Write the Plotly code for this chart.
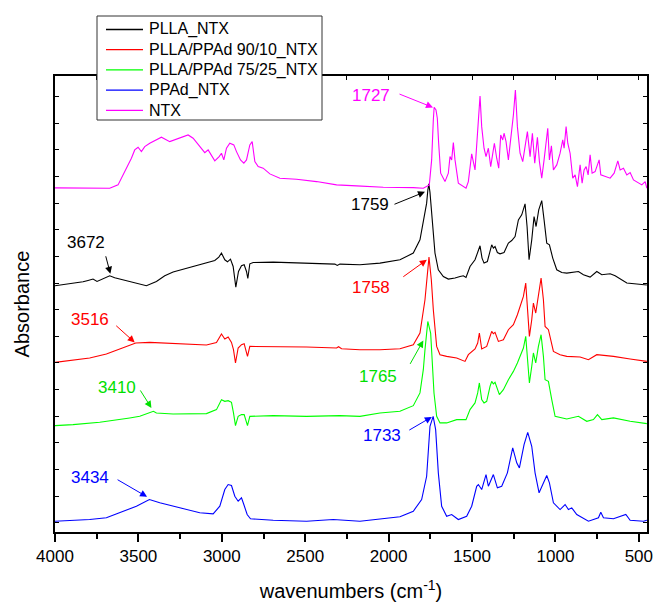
import plotly.graph_objects as go

# FTIR spectra (stacked, absorbance in arbitrary units with vertical offsets)
wn_plla = [4000, 3900, 3832, 3802, 3772, 3748, 3702, 3672, 3642, 3572, 3492, 3452, 3392, 3342, 3292,
           3192, 3092, 3042, 3018, 3002, 2982, 2966, 2948, 2932, 2916, 2900, 2882, 2866, 2852, 2844,
           2832, 2812, 2692, 2492, 2322, 2308, 2292, 2172, 2052, 1932, 1852, 1812, 1788, 1772, 1765,
           1759, 1752, 1742, 1722, 1702, 1672, 1642, 1602, 1572, 1552, 1536, 1512, 1482, 1466, 1452,
           1440, 1428, 1408, 1392, 1382, 1372, 1362, 1348, 1332, 1308, 1282, 1262, 1242, 1222, 1202,
           1182, 1170, 1158, 1142, 1128, 1116, 1100, 1082, 1068, 1052, 1036, 1016, 992, 962, 932,
           862, 832, 792, 752, 722, 672, 642, 572, 492, 452]
ab_plla = [2.465, 2.485, 2.505, 2.518, 2.532, 2.508, 2.542, 2.565, 2.545, 2.515, 2.485, 2.465, 2.508, 2.565, 2.602,
           2.648, 2.692, 2.718, 2.752, 2.792, 2.725, 2.705, 2.732, 2.658, 2.452, 2.608, 2.665, 2.675, 2.608, 2.538,
           2.685, 2.698, 2.702, 2.692, 2.682, 2.668, 2.682, 2.675, 2.692, 2.725, 2.792, 2.925, 3.125, 3.292, 3.420,
           3.485, 3.400, 3.192, 2.792, 2.625, 2.558, 2.532, 2.542, 2.558, 2.565, 2.548, 2.658, 2.725, 2.792, 2.865,
           2.742, 2.692, 2.708, 2.825, 2.875, 2.842, 2.858, 2.798, 2.785, 2.798, 2.892, 2.918, 2.958, 3.125, 3.175,
           3.285, 3.058, 2.725, 2.925, 3.158, 3.058, 3.225, 3.318, 3.125, 2.892, 2.875, 2.742, 2.625, 2.598, 2.592,
           2.608, 2.575, 2.552, 2.608, 2.575, 2.585, 2.565, 2.492, 2.478, 2.472]

wn_blend90 = [4000, 3892, 3792, 3692, 3592, 3516, 3432, 3292, 3092, 3032, 3002, 2982, 2962, 2942, 2930,
              2918, 2902, 2882, 2866, 2854, 2846, 2832, 2692, 2492, 2312, 2300, 2282, 2172, 2052, 1932,
              1852, 1812, 1782, 1768, 1758, 1744, 1732, 1712, 1692, 1652, 1592, 1542, 1522, 1482, 1466,
              1456, 1442, 1412, 1392, 1382, 1372, 1362, 1342, 1312, 1282, 1252, 1228, 1212, 1192, 1178,
              1168, 1156, 1142, 1132, 1118, 1102, 1086, 1072, 1062, 1042, 1012, 972, 932, 852, 802,
              752, 652, 552, 452]
ab_blend90 = [1.698, 1.718, 1.742, 1.782, 1.842, 1.892, 1.898, 1.885, 1.872, 1.898, 1.982, 1.932, 1.952, 1.898, 1.825,
              1.692, 1.842, 1.875, 1.885, 1.808, 1.758, 1.858, 1.858, 1.852, 1.842, 1.855, 1.835, 1.825, 1.825, 1.835,
              1.875, 1.992, 2.325, 2.558, 2.752, 2.525, 2.225, 1.858, 1.775, 1.758, 1.742, 1.708, 1.775, 1.832, 1.892,
              1.992, 1.832, 1.858, 1.975, 2.008, 1.985, 1.998, 1.908, 1.925, 2.025, 2.075, 2.175, 2.258, 2.358, 2.492,
              2.225, 1.958, 2.125, 2.292, 2.192, 2.392, 2.542, 2.325, 2.058, 2.025, 1.808, 1.775, 1.758, 1.752, 1.725,
              1.775, 1.758, 1.732, 1.708]

wn_blend75 = [4000, 3892, 3732, 3672, 3552, 3492, 3452, 3410, 3392, 3292, 3092, 3032, 3002, 2982, 2962,
              2942, 2930, 2918, 2902, 2882, 2866, 2854, 2846, 2832, 2692, 2492, 2292, 2172, 2052, 1932,
              1852, 1812, 1792, 1782, 1772, 1765, 1748, 1738, 1728, 1712, 1692, 1652, 1592, 1536, 1512,
              1482, 1466, 1456, 1442, 1428, 1412, 1392, 1382, 1372, 1362, 1336, 1312, 1282, 1252, 1228,
              1212, 1192, 1178, 1168, 1156, 1142, 1132, 1118, 1102, 1086, 1072, 1062, 1042, 1022, 1002,
              932, 862, 812, 772, 748, 722, 652, 552, 452]
ab_blend75 = [1.065, 1.075, 1.098, 1.115, 1.142, 1.158, 1.185, 1.208, 1.192, 1.182, 1.185, 1.225, 1.325, 1.308, 1.315,
              1.298, 1.192, 1.065, 1.158, 1.175, 1.175, 1.108, 1.065, 1.158, 1.165, 1.158, 1.165, 1.158, 1.192, 1.208,
              1.265, 1.392, 1.625, 1.825, 1.992, 2.108, 1.992, 1.725, 1.392, 1.158, 1.092, 1.092, 1.125, 1.125, 1.225,
              1.292, 1.392, 1.492, 1.325, 1.292, 1.308, 1.458, 1.508, 1.482, 1.498, 1.375, 1.425, 1.525, 1.608, 1.692,
              1.758, 1.842, 1.958, 1.758, 1.492, 1.658, 1.792, 1.692, 1.858, 1.975, 1.758, 1.525, 1.508, 1.325, 1.158,
              1.132, 1.158, 1.108, 1.125, 1.175, 1.125, 1.142, 1.108, 1.085]

wn_ppad = [4000, 3892, 3792, 3692, 3592, 3512, 3434, 3372, 3252, 3132, 3052, 3012, 2982, 2962, 2942,
           2922, 2902, 2882, 2868, 2848, 2828, 2692, 2492, 2332, 2172, 2052, 1932, 1852, 1802, 1772,
           1752, 1733, 1718, 1702, 1682, 1652, 1622, 1582, 1532, 1502, 1472, 1462, 1442, 1416, 1402,
           1372, 1348, 1322, 1288, 1256, 1232, 1216, 1188, 1166, 1142, 1122, 1098, 1076, 1052, 1036,
           1012, 972, 942, 922, 902, 872, 802, 742, 728, 712, 652, 578, 552, 472, 452]
ab_ppad = [0.108, 0.118, 0.125, 0.142, 0.208, 0.258, 0.325, 0.292, 0.242, 0.192, 0.182, 0.258, 0.425, 0.475, 0.465,
           0.358, 0.308, 0.342, 0.275, 0.175, 0.132, 0.118, 0.108, 0.125, 0.108, 0.132, 0.152, 0.208, 0.325, 0.558,
           1.058, 1.158, 1.025, 0.592, 0.258, 0.158, 0.175, 0.125, 0.158, 0.258, 0.458, 0.475, 0.425, 0.575, 0.458,
           0.575, 0.442, 0.458, 0.592, 0.842, 0.692, 0.642, 0.875, 0.998, 0.858, 0.592, 0.392, 0.475, 0.565, 0.492,
           0.292, 0.225, 0.275, 0.225, 0.242, 0.175, 0.108, 0.142, 0.198, 0.142, 0.132, 0.175, 0.118, 0.108, 0.118]

wn_ntx = [4000, 3900, 3792, 3672, 3622, 3592, 3562, 3542, 3522, 3502, 3482, 3462, 3432, 3392, 3362,
          3312, 3272, 3202, 3172, 3132, 3102, 3082, 3062, 3042, 3016, 3002, 2988, 2972, 2952, 2928,
          2912, 2888, 2868, 2852, 2832, 2818, 2802, 2782, 2752, 2712, 2652, 2552, 2432, 2312, 2192,
          2032, 1852, 1792, 1756, 1742, 1732, 1727, 1716, 1708, 1700, 1688, 1662, 1642, 1632, 1622,
          1612, 1602, 1582, 1536, 1522, 1502, 1482, 1466, 1452, 1442, 1428, 1416, 1402, 1388, 1366,
          1352, 1340, 1328, 1316, 1308, 1296, 1282, 1268, 1252, 1240, 1228, 1212, 1196, 1182, 1168,
          1152, 1138, 1124, 1108, 1096, 1082, 1068, 1058, 1046, 1036, 1024, 1012, 992, 972, 956,
          948, 936, 926, 912, 896, 882, 868, 852, 840, 828, 816, 804, 792, 780, 762,
          752, 738, 728, 702, 672, 648, 626, 612, 592, 572, 552, 532, 502, 482, 462, 452]
ab_ntx = [3.445, 3.445, 3.442, 3.442, 3.475, 3.575, 3.675, 3.742, 3.825, 3.852, 3.808, 3.858, 3.892, 3.925, 3.952,
          3.908, 3.932, 3.975, 3.942, 3.858, 3.798, 3.825, 3.765, 3.715, 3.758, 3.792, 3.725, 3.842, 3.892, 3.875,
          3.808, 3.725, 3.692, 3.725, 3.875, 3.908, 3.708, 3.658, 3.642, 3.585, 3.542, 3.532, 3.508, 3.475, 3.465,
          3.452, 3.448, 3.442, 3.475, 3.725, 4.125, 4.252, 4.225, 4.142, 3.892, 3.592, 3.508, 3.592, 3.758, 3.725,
          3.898, 3.725, 3.492, 3.442, 3.508, 3.785, 3.625, 4.058, 4.365, 4.058, 3.842, 3.758, 3.842, 3.658, 3.892,
          3.742, 3.642, 3.975, 3.925, 3.992, 3.908, 3.725, 3.925, 4.175, 4.425, 4.058, 3.792, 3.708, 3.858, 4.008,
          3.758, 3.992, 3.692, 3.952, 3.708, 3.542, 3.725, 3.892, 4.042, 3.725, 3.865, 3.625, 3.675, 3.792, 3.925,
          3.842, 4.058, 3.892, 3.792, 3.542, 3.575, 3.458, 3.675, 3.492, 3.625, 3.658, 3.575, 3.775, 3.592, 3.608,
          3.658, 3.725, 3.575, 3.558, 3.542, 3.592, 3.715, 3.625, 3.642, 3.575, 3.598, 3.525, 3.498, 3.475, 3.508, 3.442]

series_names = ["PLLA_NTX", "PLLA/PPAd 90/10_NTX", "PLLA/PPAd 75/25_NTX", "PPAd_NTX", "NTX"]
series_colors = ["#000000", "#FF0000", "#00FF00", "#0000FF", "#FF00FF"]
series_x = [wn_plla, wn_blend90, wn_blend75, wn_ppad, wn_ntx]
series_y = [ab_plla, ab_blend90, ab_blend75, ab_ppad, ab_ntx]

# Band labels: (text, colour, arrow head wn, head abs, tail dx px, tail dy px, text wn, text abs)
band_labels = [
    ("1727", "#FF00FF", 1734, 4.25, -35, -14, 2106, 4.365),
    ("1759", "#000000", 1782, 3.405, -32, 13, 2112, 3.275),
    ("3672", "#000000", 3668, 2.585, -5, -19, 3816, 2.895),
    ("1758", "#FF0000", 1771, 2.725, -25, 18, 2106, 2.445),
    ("3516", "#FF0000", 3522, 1.898, -20, -18, 3792, 2.125),
    ("1765", "#00E000", 1792, 1.918, -14, 25, 2064, 1.555),
    ("3410", "#00E000", 3422, 1.242, -12, -19, 3630, 1.445),
    ("1733", "#0000FF", 1741, 1.152, -24, 14, 2040, 0.965),
    ("3434", "#0000FF", 3448, 0.352, -31, -18, 3792, 0.545),
]

FONT = "Arial, Liberation Sans, sans-serif"
W, H = 655, 603
M_L, M_R, M_T, M_B = 55, 8, 76, 71
PLOT_W, PLOT_H = W - M_L - M_R, H - M_T - M_B


def px_to_paper(px, py):
    """Convert a page pixel position to paper coordinates."""
    return (px - M_L) / PLOT_W, (H - M_B - py) / PLOT_H


fig = go.Figure()
for name, color, xs, ys in zip(series_names, series_colors, series_x, series_y):
    fig.add_trace(go.Scatter(x=xs, y=ys, mode="lines", name=name, showlegend=False,
                             line=dict(color=color, width=1.1)))

# placeholder trace so the top frame axis is drawn
fig.add_trace(go.Scatter(x=[None], y=[None], xaxis="x2", showlegend=False, hoverinfo="skip"))

annotations = []
for text, color, hx, hy, dx, dy, tx, ty in band_labels:
    annotations.append(dict(x=hx, y=hy, xref="x", yref="y", text="", showarrow=True,
                            ax=dx, ay=dy, arrowhead=2, arrowsize=1.4, arrowwidth=1,
                            arrowcolor=color, standoff=0, startstandoff=0))
    annotations.append(dict(x=tx, y=ty, xref="x", yref="y", text=text, showarrow=False,
                            font=dict(family=FONT, size=17, color=color)))

# boxed legend in the upper left, overlapping the top frame
shapes = []
bx0, by0 = px_to_paper(97, 120)
bx1, by1 = px_to_paper(322, 16)
shapes.append(dict(type="rect", xref="paper", yref="paper", x0=bx0, y0=by0, x1=bx1, y1=by1,
                   line=dict(color="#333333", width=1), fillcolor="white", layer="above"))
for i, (name, color) in enumerate(zip(series_names, series_colors)):
    row_y = 29.5 + 20.2 * i
    lx0, ly = px_to_paper(106, row_y)
    lx1, _ = px_to_paper(143, row_y)
    shapes.append(dict(type="line", xref="paper", yref="paper", x0=lx0, y0=ly, x1=lx1, y1=ly,
                       line=dict(color=color, width=1.3), layer="above"))
    tx, _ = px_to_paper(147, row_y)
    annotations.append(dict(x=tx, y=ly, xref="paper", yref="paper", text=name, showarrow=False,
                            xanchor="left", yanchor="middle",
                            font=dict(family=FONT, size=16, color="black")))

x_range = [4000, 451]
fig.update_layout(
    width=W, height=H,
    margin=dict(l=M_L, r=M_R, t=M_T, b=M_B),
    paper_bgcolor="white", plot_bgcolor="white",
    font=dict(family=FONT, color="black"),
    showlegend=False,
    annotations=annotations,
    shapes=shapes,
    xaxis=dict(range=x_range, showgrid=False, zeroline=False,
               showline=True, linecolor="black", linewidth=1.5,
               ticks="outside", ticklen=8, tickwidth=1.5, tickcolor="black",
               tick0=0, dtick=500,
               minor=dict(ticks="outside", ticklen=5, tickwidth=1.5, tickcolor="black", dtick=250, tick0=0),
               tickfont=dict(family=FONT, size=17, color="black"),
               title=dict(text="wavenumbers (cm<sup>-1</sup>)", standoff=19,
                          font=dict(family=FONT, size=20, color="black")),
               automargin=False),
    xaxis2=dict(range=x_range, overlaying="x", side="top", anchor="y",
                showgrid=False, zeroline=False, showline=True, linecolor="black", linewidth=1.5,
                ticks="inside", ticklen=4, tickwidth=1.2, tickcolor="black",
                tick0=0, dtick=250, showticklabels=False),
    yaxis=dict(range=[0, 4.565], showgrid=False, zeroline=False,
               showline=True, linecolor="black", linewidth=1.5, mirror="ticks",
               ticks="inside", ticklen=4, tickwidth=1.2, tickcolor="black",
               tick0=0.092, dtick=0.2667, showticklabels=False,
               title=dict(text="Absorbance", standoff=18,
                          font=dict(family=FONT, size=20, color="black")),
               automargin=False),
)

fig.write_html("out.html")
